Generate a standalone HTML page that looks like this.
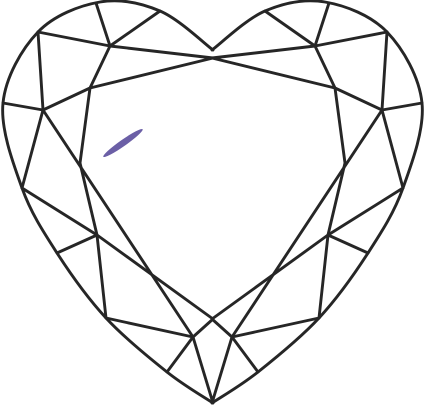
<!DOCTYPE html>
<html><head><meta charset="utf-8"><style>
html,body{margin:0;padding:0;background:#fff;width:425px;height:405px;overflow:hidden}
svg{display:block}
</style></head><body>
<svg id="gem" width="425" height="405" viewBox="0 0 425 405" xmlns="http://www.w3.org/2000/svg">
<g id="facets" stroke="#262626" stroke-width="2.9" fill="none" stroke-linejoin="round" stroke-linecap="round"></g>
<ellipse cx="123" cy="143" rx="24" ry="3.2" fill="#6b5fa6" transform="rotate(-35 123 143)"/>
</svg>
<script>
const g=document.getElementById('facets');
const NS='http://www.w3.org/2000/svg';
const W=425;
const outlineL=[[213,50],[160,11],[100,2],[38,32],[3,103],[22,188],[57,253],[106,318],[167,372],[213,403]];
function cr(pts){
  const p=[pts[0],...pts,pts[pts.length-1]];
  let d='M'+pts[0][0]+','+pts[0][1];
  for(let i=1;i<p.length-2;i++){
    const p0=p[i-1],p1=p[i],p2=p[i+1],p3=p[i+2];
    const c1=[p1[0]+(p2[0]-p0[0])/6,p1[1]+(p2[1]-p0[1])/6];
    const c2=[p2[0]-(p3[0]-p1[0])/6,p2[1]-(p3[1]-p1[1])/6];
    d+=' C'+c1.join(',')+' '+c2.join(',')+' '+p2.join(',');
  }
  return d;
}
const left=document.createElementNS(NS,'path');
left.setAttribute('d',cr(outlineL));


g.appendChild(left);
const right=document.createElementNS(NS,'path');
right.setAttribute('d',cr(outlineL.map(p=>[W-p[0],p[1]])));


g.appendChild(right);
const segs=[
 [[96,3],[110,46]],[[110,46],[160,11]],[[38,32],[110,46]],[[110,46],[213,58]],
 [[110,46],[90,88]],[[90,88],[213,58]],[[38,32],[43,110]],[[3,103],[43,110]],
 [[43,110],[90,88]],[[90,88],[80,163]],[[80,163],[97,235]],[[97,235],[106,318]],
 [[43,110],[193,337]],[[43,110],[22,188]],[[22,188],[97,235]],[[97,235],[57,253]],
 [[97,235],[213,319]],[[106,318],[193,337]],[[193,337],[167,372]],[[193,337],[213,403]],
 [[193,337],[213,319]]
];
segs.forEach(s=>{
  [s,s.map(p=>[W-p[0],p[1]])].forEach(q=>{
    const l=document.createElementNS(NS,'line');
    l.setAttribute('x1',q[0][0]);l.setAttribute('y1',q[0][1]);
    l.setAttribute('x2',q[1][0]);l.setAttribute('y2',q[1][1]);
    
    
    g.appendChild(l);
  });
});
</script>
</body></html>
